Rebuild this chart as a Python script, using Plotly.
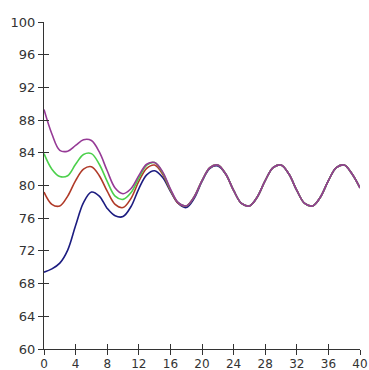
import plotly.graph_objects as go

t = list(range(0, 41))

steady_tail = [79.4, 77.8, 77.5, 78.6, 80.6, 82.2, 82.5, 81.4,
               79.4, 77.8, 77.5, 78.6, 80.6, 82.2, 82.5, 81.4, 79.7]  # t = 24..40

blue = [69.4, 69.8, 70.5, 72.1, 75.1, 77.9, 79.2, 78.7, 77.2, 76.3, 76.2, 77.4,
        79.6, 81.3, 81.8, 81.0, 79.3, 77.8, 77.3, 78.4, 80.5, 82.1, 82.4, 81.4] + steady_tail
red = [79.2, 77.7, 77.5, 78.7, 80.6, 82.0, 82.3, 81.2, 79.3, 77.7, 77.3, 78.4,
       80.5, 82.1, 82.5, 81.4, 79.4, 77.8, 77.5, 78.6, 80.6, 82.2, 82.5, 81.4] + steady_tail
green = [83.9, 82.0, 81.1, 81.2, 82.6, 83.8, 83.9, 82.6, 80.5, 78.7, 78.3, 79.1,
         80.9, 82.5, 82.8, 81.6, 79.5, 77.9, 77.5, 78.6, 80.6, 82.2, 82.5, 81.4] + steady_tail
magenta = [89.3, 86.3, 84.3, 84.2, 84.9, 85.6, 85.5, 84.1, 81.8, 79.7, 79.0, 79.6,
           81.2, 82.6, 82.8, 81.7, 79.6, 77.9, 77.5, 78.6, 80.6, 82.2, 82.5, 81.4] + steady_tail

x_ticks = list(range(0, 41, 4))
y_ticks = list(range(60, 101, 4))

series = [
    (blue, "#1c1c80"),
    (red, "#b03a28"),
    (green, "#4cd04c"),
    (magenta, "#963a96"),
]

fig = go.Figure()
for vals, col in series:
    fig.add_trace(go.Scatter(x=t, y=vals, mode="lines",
                             line=dict(color=col, width=1.6, shape="spline", smoothing=1.0),
                             showlegend=False, hoverinfo="skip"))

font = dict(family="DejaVu Sans, Verdana, sans-serif", size=13, color="#333333")
common = dict(showgrid=False, zeroline=False, showline=True, linecolor="#333333",
              linewidth=1.3, tickcolor="#333333", tickwidth=1.3, ticklen=5,
              automargin=False)

fig.update_layout(
    width=369, height=370,
    margin=dict(l=44, r=9, t=22, b=21),
    paper_bgcolor="white", plot_bgcolor="white",
    font=font,
    xaxis=dict(range=[0, 40], tickvals=x_ticks, ticks="inside",
               tickfont=dict(size=12), ticklabelstandoff=3, **common),
    yaxis=dict(range=[60, 100], tickvals=y_ticks, ticks="outside", **common),
    xaxis2=dict(range=[0, 40], tickvals=x_ticks, ticks="outside", overlaying="x",
                showticklabels=False, anchor="y", side="bottom", **common),
    yaxis2=dict(range=[60, 100], tickvals=y_ticks, ticks="inside", overlaying="y",
                showticklabels=False, anchor="x", side="left", **common),
)
# invisible trace to activate overlay axes
fig.add_trace(go.Scatter(x=[0], y=[60], xaxis="x2", yaxis="y2", mode="markers",
                         marker=dict(opacity=0), showlegend=False, hoverinfo="skip"))

fig.write_html("out.html")
